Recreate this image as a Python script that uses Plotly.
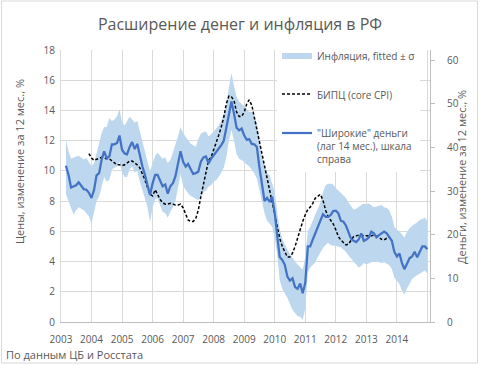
import pandas as pd
import plotly.graph_objects as go

# ---------------- data ----------------
# Monthly, band and money series start March 2003 and end January 2015
band_start = "2003-03-01"
band_upper = [
    12.1, 11.3, 10.8, 10.9, 10.95, 11.0, 10.9, 10.75, 10.85, 10.6, 10.3, 10.5, 11.2, 11.9, 12.5, 12.9,
    12.9, 13.5, 13.3, 13.4, 13.6, 14.1, 13.2, 13.0, 13.3, 13.6, 13.4, 13.2, 13.3, 12.6, 11.9, 11.1,
    10.6, 10.0, 10.5, 11.0, 11.2, 11.0, 10.8, 10.9, 10.5, 10.7, 11.2, 11.7, 12.3, 12.9,
    12.5, 12.25, 12.0, 11.8, 11.7, 11.6, 12.1, 12.45, 12.55, 12.6, 12.3, 12.4,
    12.6, 12.8, 13.0, 13.3, 13.75, 14.3, 15.5, 16.5, 15.6, 14.9, 14.6, 14.45,
    14.3, 14.1, 13.9, 13.9, 13.6, 13.2, 12.2, 11.0, 10.3, 9.9, 9.7, 9.2,
    8.6, 7.2, 6.2, 5.5, 5.1, 4.8, 4.5, 4.2, 4.0, 3.8, 3.6, 3.45,
    4.3, 6.0, 6.3, 6.7, 7.2, 7.5, 7.9, 8.6, 9.05, 9.15, 9.15, 9.1,
    8.85, 8.7, 8.55, 8.4, 8.2, 7.9, 7.7, 7.45, 7.5, 7.65, 7.75, 7.85,
    7.8, 7.85, 7.7, 7.6, 7.65, 7.7, 7.75, 7.6, 7.55, 7.4, 7.0, 6.3,
    6.1, 6.0, 5.8, 5.6, 5.95, 6.2, 6.35, 6.45, 6.6, 6.75, 6.85, 6.9,
    6.7,
]
band_lower = [
    8.45, 8.0, 7.6, 7.1, 7.4, 7.6, 7.5, 7.4, 7.2, 7.0, 6.5, 7.2, 8.0, 8.3, 9.0, 9.6,
    9.3, 9.4, 10.1, 10.2, 10.3, 10.6, 9.9, 9.6, 9.6, 10.1, 10.3, 9.9, 10.0, 9.3, 8.7, 8.2,
    7.6, 6.6, 7.6, 8.1, 8.2, 7.7, 7.3, 7.2, 6.9, 7.3, 7.6, 8.0, 9.0, 9.8,
    9.0, 8.7, 8.5, 8.35, 8.25, 8.2, 8.05, 8.3, 8.6, 8.7, 8.95, 9.05,
    9.3, 9.4, 9.6, 9.9, 10.2, 10.9, 12.0, 12.7, 12.0, 11.1, 10.8, 10.7,
    10.6, 10.4, 10.3, 10.1, 9.85, 9.5, 8.7, 7.8, 7.2, 6.7, 6.5, 6.3,
    5.6, 4.4, 2.8, 2.2, 1.9, 1.6, 1.2, 0.8, 0.6, 0.4, 0.35, 0.15,
    0.9, 3.3, 3.6, 3.75, 3.95, 4.3, 4.6, 4.9, 5.1, 5.25, 5.1, 5.05,
    5.05, 5.0, 4.95, 4.8, 4.65, 4.4, 4.2, 4.0, 3.75, 3.6, 3.7, 3.9,
    3.8, 3.9, 3.95, 4.0, 4.0, 3.95, 3.9, 3.95, 3.85, 3.75, 3.5, 2.95,
    2.75, 2.5, 2.1, 1.8, 2.2, 2.5, 2.85, 3.0, 3.1, 3.2, 3.3, 3.4,
    3.2,
]
money_start = "2003-03-01"
money_lag14 = [  # right-hand scale
    35.8, 33.7, 30.8, 31.1, 31.3, 32.0, 31.1, 30.4, 30.3, 29.6, 28.4, 30.3, 33.6, 34.1, 37.2, 39.1,
    37.5, 37.9, 40.7, 40.7, 41.0, 42.7, 39.4, 38.6, 38.4, 40.1, 41.2, 39.6, 40.8, 37.9, 35.6, 33.7,
    31.5, 29.1, 31.8, 33.7, 33.7, 32.2, 31.1, 31.5, 29.4, 31.1, 31.8, 33.4, 36.8, 39.1,
    36.7, 35.6, 36.2, 35.1, 33.9, 34.1, 34.4, 36.7, 37.7, 37.9, 36.3, 37.4,
    38.2, 38.9, 39.6, 40.5, 41.5, 44.6, 47.2, 50.5, 47.7, 44.5, 43.9, 44.3,
    42.7, 41.7, 41.9, 40.8, 40.7, 40.1, 35.5, 31.7, 27.7, 28.4, 27.5, 28.7,
    24.9, 19.5, 14.9, 14.2, 13.1, 10.4, 9.5, 10.0, 8.0, 7.6, 8.8, 6.6,
    9.0, 17.3, 17.3, 18.9, 20.4, 21.5, 23.4, 24.7, 24.1, 24.1, 24.5, 25.4,
    25.5, 24.9, 23.2, 23.0, 22.1, 20.3, 19.1, 18.6, 18.3, 18.9, 20.3, 18.6,
    18.9, 19.4, 20.7, 20.3, 19.4, 19.9, 20.3, 20.7, 20.3, 19.4, 18.6, 16.1,
    15.0, 15.7, 13.6, 12.1, 13.5, 14.6, 15.0, 16.1, 14.8, 16.1, 17.3, 17.3,
    16.7,
]
core_start = "2003-12-01"
core_cpi = [
    11.15, 10.85, 10.7, 10.75, 10.85, 10.9, 10.85, 10.8, 10.8, 10.65, 10.5, 10.4, 10.4,
    10.35, 10.4, 10.5, 10.65, 10.65, 10.55, 10.4, 10.2, 9.85, 9.4, 8.9, 8.45,
    8.35, 8.75, 8.45, 8.1, 7.9, 7.8, 7.8, 7.85, 7.8, 7.75, 7.75, 7.8,
    7.55, 7.1, 6.75, 6.65, 6.65, 6.85, 7.4, 8.3, 9.15, 10.05, 10.7, 10.9,
    11.35, 11.9, 12.35, 12.9, 13.55, 14.45, 14.95, 14.9, 14.65, 13.9, 13.6, 13.6,
    13.9, 14.45, 14.7, 14.35, 13.55, 12.8, 12.0, 11.15, 10.35, 9.5, 8.7, 7.85,
    6.95, 6.1, 5.55, 5.0, 4.65, 4.3, 4.3, 4.55, 5.0, 5.6, 6.2, 6.65,
    7.1, 7.45, 7.6, 7.85, 8.2, 8.35, 8.45, 8.05, 7.4, 6.97, 6.75, 6.5,
    6.1, 5.65, 5.43, 5.25, 5.1, 5.15, 5.43, 5.65, 5.7, 5.75, 5.75, 5.7,
    5.7, 5.7, 5.7, 5.75, 5.7, 5.6, 5.47, 5.43, 5.54, 5.6,
]
year_ticks = [str(y) for y in range(2003, 2016)]
year_labels = [str(y) for y in range(2003, 2015)] + [""]

title_text = "Расширение денег и инфляция в РФ"
left_title = "Цены, изменение за 12 мес., %"
right_title = "Деньги, изменение за 12 мес., %"
source_text = "По данным ЦБ и Росстата"
name_band = "Инфляция, fitted ± σ"
name_core = "БИПЦ (core CPI)"
name_money = "\"Широкие\" деньги<br>(лаг 14 мес.), шкала<br>справа"

# ---------------- figure ----------------
band_x = pd.date_range(band_start, periods=len(band_upper), freq="MS")
money_x = pd.date_range(money_start, periods=len(money_lag14), freq="MS")
core_x = pd.date_range(core_start, periods=len(core_cpi), freq="MS")

FONT = "Open Sans, DejaVu Sans, sans-serif"
TXT = "#595959"
GRID = "#D9D9D9"

fig = go.Figure()
fig.add_trace(go.Scatter(x=band_x, y=band_lower, mode="lines", line=dict(width=0, color="#BDD7EE"),
                         showlegend=False, legendgroup="g1", hoverinfo="skip"))
fig.add_trace(go.Scatter(x=band_x, y=band_upper, mode="lines", line=dict(width=0, color="#BDD7EE"),
                         fill="tonexty", fillcolor="#BDD7EE", name=name_band, legendgroup="g1"))
fig.add_trace(go.Scatter(x=core_x, y=core_cpi, mode="lines", name=name_core, legendgroup="g2",
                         line=dict(color="#000000", width=1.5, dash="3px,2px")))
fig.add_trace(go.Scatter(x=money_x, y=money_lag14, mode="lines", name=name_money, legendgroup="g3",
                         yaxis="y2", line=dict(color="#4472C4", width=2.25)))

fig.update_layout(
    width=480, height=365,
    margin=dict(l=61, r=50, t=50, b=43),
    paper_bgcolor="white", plot_bgcolor="white",
    font=dict(family=FONT, size=10, color=TXT),
    title=dict(text=title_text, x=0.5, xanchor="center", y=1 - 24 / 365, yanchor="middle",
               font=dict(size=16, color=TXT, family=FONT)),
    xaxis=dict(type="date", range=["2003-01-01", "2015-02-01"],
               tickvals=year_ticks, ticktext=year_labels,
               showgrid=True, gridcolor=GRID, gridwidth=1,
               showline=True, linecolor="#BFBFBF", linewidth=1,
               ticks="outside", ticklen=8, tickcolor="rgba(0,0,0,0)",
               tickfont=dict(size=10, color=TXT), zeroline=False),
    yaxis=dict(range=[0, 18], dtick=2, tick0=0,
               showgrid=True, gridcolor=GRID, gridwidth=1,
               showline=True, linecolor=GRID, linewidth=1,
               ticks="outside", ticklen=3, tickcolor="rgba(0,0,0,0)",
               tickfont=dict(size=10, color=TXT), zeroline=False),
    yaxis2=dict(overlaying="y", side="right", range=[0, 62.3],
                tickvals=[0, 10, 20, 30, 40, 50, 60],
                showgrid=False, showline=True, linecolor="#BFBFBF", linewidth=1,
                ticks="outside", ticklen=4, tickcolor="#BFBFBF",
                ticklabelstandoff=10,
                tickfont=dict(size=10, color=TXT), zeroline=False),
    legend=dict(x=(277 - 61) / 369, y=1.0 + 8 / 272, xanchor="left", yanchor="top",
                bgcolor="white", borderwidth=0,
                font=dict(size=10, color=TXT, family=FONT),
                traceorder="grouped", tracegroupgap=20, valign="top"),
    showlegend=True,
)

fig.add_annotation(text=left_title, x=(19 - 61) / 369, y=(322 - 162) / 272, xref="paper", yref="paper",
                   textangle=-90, showarrow=False, xanchor="center", yanchor="middle",
                   font=dict(size=11, color=TXT, family=FONT))
fig.add_annotation(text=right_title, x=(461 - 61) / 369, y=(322 - 177) / 272, xref="paper", yref="paper",
                   textangle=-90, showarrow=False, xanchor="center", yanchor="middle",
                   font=dict(size=11, color=TXT, family=FONT))
fig.add_annotation(text=source_text, x=(4 - 61) / 369, y=(322 - 354) / 272, xref="paper", yref="paper",
                   showarrow=False, xanchor="left", yanchor="middle",
                   font=dict(size=11, color=TXT, family=FONT))
# chart-area border
fig.add_shape(type="rect", xref="paper", yref="paper",
              x0=(1.5 - 61) / 369, x1=(477.5 - 61) / 369, y0=(322 - 363) / 272, y1=(322 - 1) / 272,
              line=dict(color="#D9D9D9", width=1), fillcolor="rgba(0,0,0,0)", layer="below")

fig.write_html("out.html", config={"displayModeBar": False},
               post_script="document.body.style.margin='0';document.body.style.padding='0';")
